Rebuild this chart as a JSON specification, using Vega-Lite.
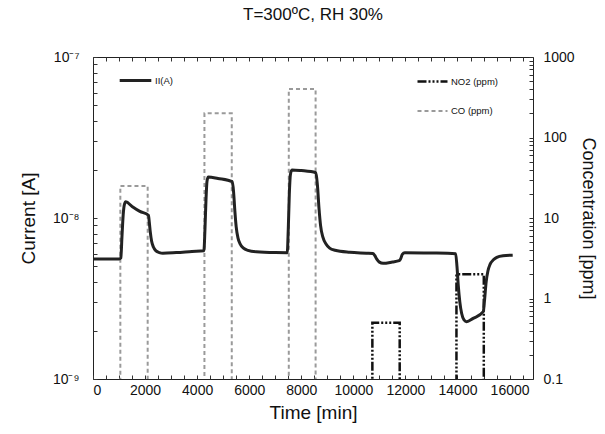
{
  "$schema": "https://vega.github.io/schema/vega-lite/v6.json",
  "autosize": {"type": "none"},
  "padding": {"left": 93, "top": 57, "right": 72, "bottom": 55},
  "width": 440,
  "height": 322,
  "background": "white",
  "config": {
    "font": "Liberation Sans",
    "view": {"stroke": "#222", "strokeWidth": 1},
    "axis": {"domain": false, "grid": false, "tickColor": "#333", "labelColor": "#111", "titleColor": "#111", "labelFont": "Liberation Sans", "titleFont": "Liberation Sans", "titleFontWeight": "normal", "labelFontSize": 14, "titleFontSize": 19},
    "legend": {"labelFont": "Liberation Sans", "labelFontSize": 9.5, "labelColor": "#111"}
  },
  "title": {"text": "T=300ºC, RH 30%", "fontSize": 17, "fontWeight": "normal", "font": "Liberation Sans", "color": "#111", "anchor": "middle", "offset": 26},
  "datasets": {
    "current": [
      {"t": 0, "I": 5.56e-9}, {"t": 1000, "I": 5.56e-9}, {"t": 1070, "I": 5.65e-9}, {"t": 1110, "I": 7.5e-9}, {"t": 1160, "I": 1.05e-8},
      {"t": 1210, "I": 1.22e-8}, {"t": 1260, "I": 1.26e-8}, {"t": 1500, "I": 1.18e-8}, {"t": 1800, "I": 1.1e-8}, {"t": 2130, "I": 1.04e-8},
      {"t": 2160, "I": 9.5e-9}, {"t": 2200, "I": 8.2e-9}, {"t": 2250, "I": 7.2e-9}, {"t": 2320, "I": 6.6e-9}, {"t": 2420, "I": 6.25e-9},
      {"t": 2550, "I": 6.1e-9}, {"t": 2680, "I": 6.04e-9}, {"t": 3200, "I": 6.1e-9}, {"t": 3800, "I": 6.2e-9}, {"t": 4260, "I": 6.27e-9},
      {"t": 4300, "I": 8.5e-9}, {"t": 4340, "I": 1.3e-8}, {"t": 4380, "I": 1.7e-8}, {"t": 4430, "I": 1.8e-8}, {"t": 4800, "I": 1.76e-8},
      {"t": 5350, "I": 1.68e-8}, {"t": 5400, "I": 1.45e-8}, {"t": 5450, "I": 1.1e-8}, {"t": 5500, "I": 8.8e-9}, {"t": 5570, "I": 7.5e-9},
      {"t": 5650, "I": 6.9e-9}, {"t": 5780, "I": 6.5e-9}, {"t": 5950, "I": 6.3e-9}, {"t": 6270, "I": 6.17e-9}, {"t": 7000, "I": 6.1e-9},
      {"t": 7460, "I": 6.09e-9}, {"t": 7500, "I": 8.5e-9}, {"t": 7540, "I": 1.4e-8}, {"t": 7580, "I": 1.85e-8}, {"t": 7640, "I": 1.99e-8},
      {"t": 8000, "I": 1.97e-8}, {"t": 8560, "I": 1.91e-8}, {"t": 8620, "I": 1.6e-8}, {"t": 8680, "I": 1.15e-8}, {"t": 8740, "I": 9e-9},
      {"t": 8830, "I": 7.6e-9}, {"t": 8950, "I": 6.9e-9}, {"t": 9090, "I": 6.5e-9}, {"t": 9300, "I": 6.3e-9}, {"t": 9860, "I": 6.12e-9},
      {"t": 10500, "I": 6.05e-9}, {"t": 10750, "I": 6.02e-9}, {"t": 10820, "I": 5.85e-9}, {"t": 10900, "I": 5.55e-9}, {"t": 11000, "I": 5.32e-9},
      {"t": 11140, "I": 5.23e-9}, {"t": 11500, "I": 5.33e-9}, {"t": 11760, "I": 5.43e-9}, {"t": 11820, "I": 5.6e-9}, {"t": 11880, "I": 5.95e-9},
      {"t": 11975, "I": 6.09e-9}, {"t": 13000, "I": 6.06e-9}, {"t": 13930, "I": 6.0e-9}, {"t": 13980, "I": 5.0e-9}, {"t": 14030, "I": 3.8e-9},
      {"t": 14090, "I": 3.0e-9}, {"t": 14160, "I": 2.55e-9}, {"t": 14250, "I": 2.33e-9}, {"t": 14350, "I": 2.27e-9}, {"t": 14600, "I": 2.38e-9},
      {"t": 14990, "I": 2.62e-9}, {"t": 15040, "I": 3.1e-9}, {"t": 15100, "I": 4.0e-9}, {"t": 15170, "I": 4.7e-9}, {"t": 15250, "I": 5.15e-9},
      {"t": 15380, "I": 5.5e-9}, {"t": 15510, "I": 5.7e-9}, {"t": 15750, "I": 5.83e-9}, {"t": 16120, "I": 5.88e-9}
    ],
    "gas": [
      {"gas": "CO (ppm)", "i": 0, "t": 0, "c": 0.01},
      {"gas": "CO (ppm)", "i": 1, "t": 1050, "c": 0.01},
      {"gas": "CO (ppm)", "i": 2, "t": 1050, "c": 25},
      {"gas": "CO (ppm)", "i": 3, "t": 2100, "c": 25},
      {"gas": "CO (ppm)", "i": 4, "t": 2100, "c": 0.01},
      {"gas": "CO (ppm)", "i": 5, "t": 4280, "c": 0.01},
      {"gas": "CO (ppm)", "i": 6, "t": 4280, "c": 200},
      {"gas": "CO (ppm)", "i": 7, "t": 5330, "c": 200},
      {"gas": "CO (ppm)", "i": 8, "t": 5330, "c": 0.01},
      {"gas": "CO (ppm)", "i": 9, "t": 7520, "c": 0.01},
      {"gas": "CO (ppm)", "i": 10, "t": 7520, "c": 400},
      {"gas": "CO (ppm)", "i": 11, "t": 8550, "c": 400},
      {"gas": "CO (ppm)", "i": 12, "t": 8550, "c": 0.01},
      {"gas": "CO (ppm)", "i": 13, "t": 16200, "c": 0.01},
      {"gas": "NO2 (ppm)", "i": 0, "t": 0, "c": 0.01},
      {"gas": "NO2 (ppm)", "i": 1, "t": 10730, "c": 0.01},
      {"gas": "NO2 (ppm)", "i": 2, "t": 10730, "c": 0.5},
      {"gas": "NO2 (ppm)", "i": 3, "t": 11780, "c": 0.5},
      {"gas": "NO2 (ppm)", "i": 4, "t": 11780, "c": 0.01},
      {"gas": "NO2 (ppm)", "i": 5, "t": 13960, "c": 0.01},
      {"gas": "NO2 (ppm)", "i": 6, "t": 13960, "c": 2},
      {"gas": "NO2 (ppm)", "i": 7, "t": 15010, "c": 2},
      {"gas": "NO2 (ppm)", "i": 8, "t": 15010, "c": 0.01},
      {"gas": "NO2 (ppm)", "i": 9, "t": 16200, "c": 0.01}
    ]
  },
  "layer": [
    {
      "data": {"name": "gas"},
      "mark": {"type": "line", "clip": true},
      "encoding": {
        "x": {"field": "t", "type": "quantitative", "scale": {"domain": [0, 16900], "nice": false},
          "axis": {"orient": "top", "labels": false, "title": null, "tickSize": -4, "values": [0,500,1000,1500,2000,2500,3000,3500,4000,4500,5000,5500,6000,6500,7000,7500,8000,8500,9000,9500,10000,10500,11000,11500,12000,12500,13000,13500,14000,14500,15000,15500,16000,16500]}},
        "y": {"field": "c", "type": "quantitative", "scale": {"type": "log", "domain": [0.1, 1000], "nice": false},
          "axis": {"orient": "right", "title": "Concentration [ppm]", "titlePadding": 4, "titleFontSize": 18, "tickSize": -4, "labelPadding": 14,
            "values": [0.1,0.2,0.3,0.4,0.5,0.6,0.7,0.8,0.9,1,2,3,4,5,6,7,8,9,10,20,30,40,50,60,70,80,90,100,200,300,400,500,600,700,800,900,1000],
            "labelExpr": "indexof([0.1,1,10,100,1000], datum.value) >= 0 ? format(datum.value, '~g') : ''"}},
        "order": {"field": "i", "type": "quantitative"},
        "color": {"field": "gas", "type": "nominal",
          "scale": {"domain": ["NO2 (ppm)", "CO (ppm)"], "range": ["#111111", "#9a9a9a"]},
          "legend": {"orient": "none", "legendX": 323, "legendY": 8, "title": null, "symbolType": "stroke", "symbolSize": 900, "symbolStrokeWidth": 2.5, "rowPadding": 8, "labelOffset": 2}},
        "strokeDash": {"field": "gas", "type": "nominal",
          "scale": {"domain": ["NO2 (ppm)", "CO (ppm)"], "range": [[9, 2, 2, 2, 2, 2, 2, 2], [4, 3]]},
          "legend": {"orient": "none", "legendX": 323, "legendY": 8, "title": null, "symbolType": "stroke", "symbolSize": 900, "symbolStrokeWidth": 2.5, "rowPadding": 8, "labelOffset": 2}},
        "strokeWidth": {"field": "gas", "type": "nominal", "scale": {"domain": ["NO2 (ppm)", "CO (ppm)"], "range": [2.5, 2]}, "legend": null}
      }
    },
    {
      "data": {"name": "current"},
      "transform": [{"calculate": "'II(A)'", "as": "s"}],
      "mark": {"type": "line", "strokeWidth": 3, "clip": true, "interpolate": "monotone"},
      "encoding": {
        "x": {"field": "t", "type": "quantitative", "scale": {"domain": [0, 16900], "nice": false},
          "axis": {"orient": "bottom", "title": "Time [min]", "titlePadding": 6, "tickSize": -4, "labelPadding": 8,
            "values": [0,500,1000,1500,2000,2500,3000,3500,4000,4500,5000,5500,6000,6500,7000,7500,8000,8500,9000,9500,10000,10500,11000,11500,12000,12500,13000,13500,14000,14500,15000,15500,16000,16500],
            "labelExpr": "datum.value % 2000 == 0 ? format(datum.value, 'd') : ''"}},
        "y": {"field": "I", "type": "quantitative", "scale": {"type": "log", "domain": [1e-9, 1e-7], "nice": false},
          "axis": {"orient": "left", "title": "Current [A]", "titlePadding": 14, "tickSize": -4, "labelPadding": 18,
            "values": [1e-9,2e-9,3e-9,4e-9,5e-9,6e-9,7e-9,8e-9,9e-9,1e-8,2e-8,3e-8,4e-8,5e-8,6e-8,7e-8,8e-8,9e-8,1e-7],
            "labelExpr": "datum.value == 1e-9 ? '10⁻⁹' : (datum.value == 1e-8 ? '10⁻⁸' : (datum.value == 1e-7 ? '10⁻⁷' : ''))"}},
        "color": {"field": "s", "type": "nominal", "scale": {"domain": ["II(A)"], "range": ["#222222"]},
          "legend": {"orient": "none", "legendX": 25, "legendY": 6, "title": null, "symbolType": "stroke", "symbolSize": 1000, "symbolStrokeWidth": 3, "labelOffset": 2}}
      }
    }
  ],
  "resolve": {"scale": {"y": "independent", "color": "independent", "strokeDash": "independent", "strokeWidth": "independent"}, "axis": {"x": "independent"}}
}
